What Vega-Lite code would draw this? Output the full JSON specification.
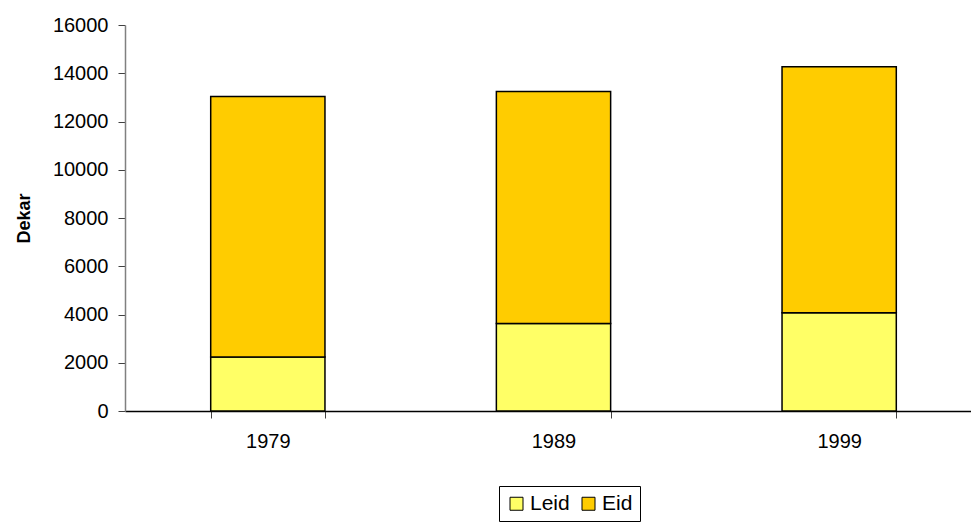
{
  "$schema": "https://vega.github.io/schema/vega-lite/v6.json",
  "autosize": "none",
  "width": 846,
  "height": 386,
  "padding": {"left": 125, "top": 25, "right": 0, "bottom": 114},
  "background": "white",
  "config": {
    "view": {"stroke": null},
    "font": "Liberation Sans"
  },
  "data": {
    "values": [
      {"year": "1979", "type": "Leid", "value": 2240, "ord": 1},
      {"year": "1979", "type": "Eid", "value": 10800, "ord": 2},
      {"year": "1989", "type": "Leid", "value": 3630, "ord": 1},
      {"year": "1989", "type": "Eid", "value": 9610, "ord": 2},
      {"year": "1999", "type": "Leid", "value": 4070, "ord": 1},
      {"year": "1999", "type": "Eid", "value": 10200, "ord": 2}
    ]
  },
  "mark": {"type": "bar", "stroke": "black", "strokeWidth": 1.5},
  "encoding": {
    "x": {
      "field": "year",
      "type": "nominal",
      "scale": {"paddingInner": 0.6, "paddingOuter": 0.3, "range": [0, 857]},
      "axis": {
        "title": null,
        "labelAngle": 0,
        "labelFontSize": 20,
        "labelColor": "black",
        "labelPadding": 13,
        "tickBand": "extent",
        "tickSize": 7,
        "tickColor": "#404040",
        "domainColor": "black",
        "domainWidth": 1.5,
        "grid": false
      }
    },
    "y": {
      "field": "value",
      "type": "quantitative",
      "stack": "zero",
      "scale": {"domain": [0, 16000], "nice": false},
      "axis": {
        "title": "Dekar",
        "titleFontSize": 18,
        "titleFontWeight": "bold",
        "titleColor": "black",
        "titlePadding": 19,
        "format": "d",
        "values": [0, 2000, 4000, 6000, 8000, 10000, 12000, 14000, 16000],
        "labelFontSize": 20,
        "labelColor": "black",
        "labelPadding": 10,
        "tickSize": 7,
        "tickColor": "#404040",
        "domainColor": "#808080",
        "domainWidth": 1.5,
        "grid": false
      }
    },
    "fill": {
      "field": "type",
      "type": "nominal",
      "scale": {"domain": ["Leid", "Eid"], "range": ["#FFFF66", "#FFCC00"]},
      "legend": {
        "title": null,
        "orient": "none",
        "legendX": 374,
        "legendY": 461,
        "direction": "horizontal",
        "strokeColor": "black",
        "padding": 7,
        "labelFontSize": 21,
        "labelColor": "black",
        "labelOffset": 3,
        "columnPadding": 8,
        "symbolType": "square",
        "symbolSize": 169,
        "symbolStrokeColor": "black",
        "symbolStrokeWidth": 1
      }
    },
    "order": {"field": "ord", "type": "quantitative"}
  }
}
